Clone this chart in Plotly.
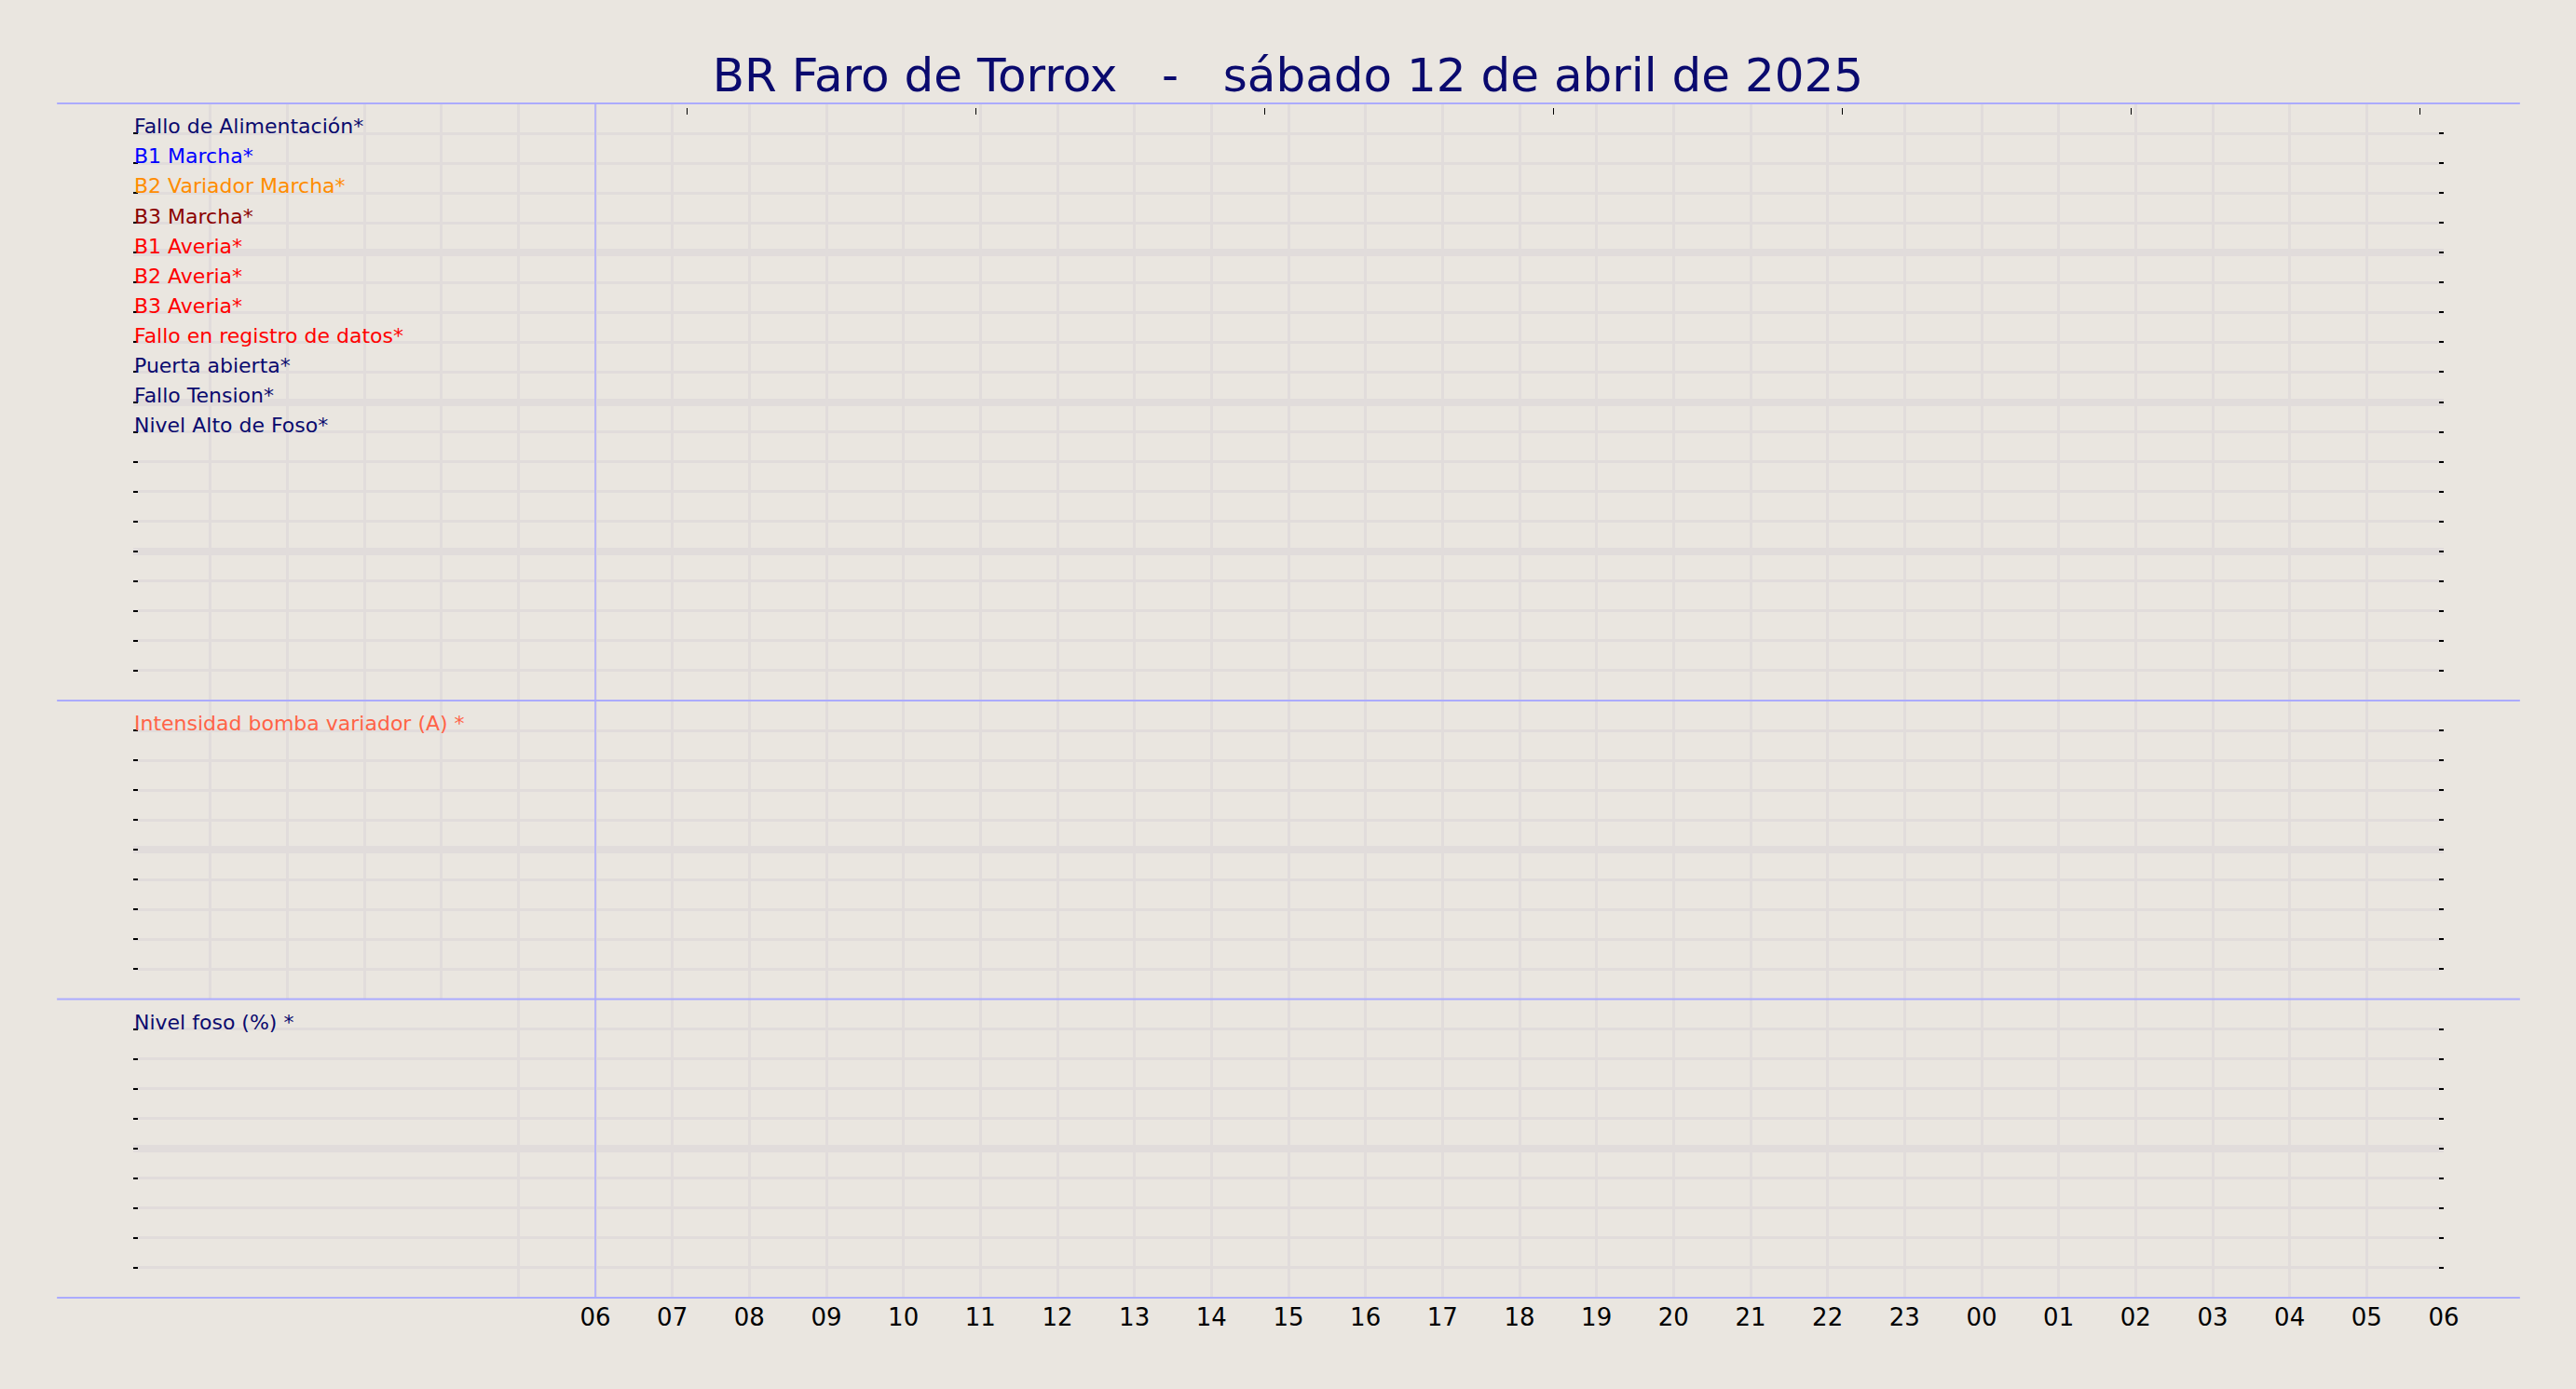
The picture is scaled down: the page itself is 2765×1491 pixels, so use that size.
import plotly.graph_objects as go

TITLE = "BR Faro de Torrox   -   sábado 12 de abril de 2025"

RANGE_START = "2025-04-12 00:00"
RANGE_END = "2025-04-13 06:00"
DAY_START = "2025-04-12 06:00"

HOUR_TICKS = ["2025-04-12 %02d:00" % h for h in range(24)] + \
             ["2025-04-13 %02d:00" % h for h in range(7)]
HOUR_LABELS = ["", "", "", "", "", "",
               "06", "07", "08", "09", "10", "11", "12", "13", "14", "15", "16", "17",
               "18", "19", "20", "21", "22", "23", "00", "01", "02", "03", "04", "05", "06"]

DIGITAL_SIGNALS = ["Fallo de Alimentación*", "B1 Marcha*", "B2 Variador Marcha*", "B3 Marcha*",
                   "B1 Averia*", "B2 Averia*", "B3 Averia*", "Fallo en registro de datos*",
                   "Puerta abierta*", "Fallo Tension*", "Nivel Alto de Foso*"]
DIGITAL_COLORS = ["#0A0A6E", "#0000FF", "#FF8C00", "#8B0000", "#FF0000", "#FF0000", "#FF0000",
                  "#FF0000", "#0A0A6E", "#0A0A6E", "#0A0A6E"]

INTENSITY_LABEL = ["Intensidad bomba variador (A) *"]
INTENSITY_COLOR = ["#FF6347"]
LEVEL_LABEL = ["Nivel foso (%) *"]
LEVEL_COLOR = ["#0A0A6E"]

# no readings were logged for this day
digital_times, digital_values = [], []
intensity_times, intensity_values = [], []
level_times, level_values = [], []

BG = "#EAE6E0"
GRID = "#E1DCDB"
EDGE = "#ABABFF"


def row_ticks(n_rows, labels, colors):
    vals = list(range(n_rows + 1))
    text = []
    for v in vals:
        k = n_rows - v
        if 1 <= k <= len(labels):
            text.append("<span style='color:%s'>%s</span>" % (colors[k - 1], labels[k - 1]))
        else:
            text.append("")
    return vals, text


def signal_axis(n_rows, labels, colors, domain):
    vals, text = row_ticks(n_rows, labels, colors)
    return dict(domain=domain, anchor="x", range=[0, n_rows], tickmode="array",
                tickvals=vals, ticktext=text, ticks="inside", ticklen=5, tickwidth=2,
                tickcolor="black", mirror="ticks", ticklabelposition="inside top",
                ticklabelshift=9, ticklabelstandoff=-2,
                tickfont=dict(size=22), showgrid=True, gridcolor=GRID, gridwidth=3,
                zeroline=False, showline=False)


def band_axis(n_rows, over):
    return dict(overlaying=over, anchor="x", range=[0, n_rows], tickmode="linear",
                tick0=0, dtick=5, showticklabels=False, ticks="", showgrid=True,
                gridcolor=GRID, gridwidth=8, zeroline=False, showline=False)


def main():
    fig = go.Figure()
    fig.add_trace(go.Scatter(x=digital_times, y=digital_values, xaxis="x", yaxis="y",
                             mode="lines", name="Digitales"))
    fig.add_trace(go.Scatter(x=intensity_times, y=intensity_values, xaxis="x", yaxis="y2",
                             mode="lines", name=INTENSITY_LABEL[0], line=dict(color=INTENSITY_COLOR[0])))
    fig.add_trace(go.Scatter(x=level_times, y=level_values, xaxis="x", yaxis="y3",
                             mode="lines", name=LEVEL_LABEL[0], line=dict(color=LEVEL_COLOR[0])))
    for ya in ["y4", "y5", "y6"]:
        fig.add_trace(go.Scatter(x=[], y=[], xaxis="x", yaxis=ya, hoverinfo="skip"))
    fig.add_trace(go.Scatter(x=[], y=[], xaxis="x2", yaxis="y", hoverinfo="skip"))

    fig.update_layout(
        width=2765, height=1491,
        margin=dict(l=143, r=142, t=111, b=98, pad=0),
        paper_bgcolor=BG, plot_bgcolor=BG,
        font=dict(family="DejaVu Sans", color="black"),
        showlegend=False,
        title=dict(text=TITLE.replace(" ", "\u00a0"), x=0.5, xanchor="center",
                   y=1 - 80 / 1491, yanchor="middle", yref="container",
                   font=dict(size=50, color="#0A0A6E")),
        xaxis=dict(type="date", anchor="y3", range=[RANGE_START, RANGE_END],
                   tickmode="array", tickvals=HOUR_TICKS, ticktext=HOUR_LABELS,
                   ticks="", tickfont=dict(size=26, color="black"), ticklabelstandoff=3,
                   showgrid=True, gridcolor=GRID, gridwidth=3, zeroline=False, showline=False),
        xaxis2=dict(overlaying="x", side="top", anchor="free", position=0.9906,
                    range=[-11 / 12, 8 - 11 / 12], tickmode="linear", tick0=0, dtick=1,
                    ticks="outside", ticklen=7, tickwidth=1.3, tickcolor="black",
                    showticklabels=False, showgrid=False, zeroline=False, showline=False),
        yaxis=signal_axis(20, DIGITAL_SIGNALS, DIGITAL_COLORS, [0.5, 1.0]),
        yaxis2=signal_axis(10, INTENSITY_LABEL, INTENSITY_COLOR, [0.25, 0.5]),
        yaxis3=signal_axis(10, LEVEL_LABEL, LEVEL_COLOR, [0.0, 0.25]),
        yaxis4=band_axis(20, "y"),
        yaxis5=band_axis(10, "y2"),
        yaxis6=band_axis(10, "y3"),
    )

    for edge in [0.0, 0.25, 0.5, 1.0]:
        fig.add_shape(type="line", xref="paper", yref="paper", x0=-0.033, x1=1.033,
                      y0=edge, y1=edge, line=dict(color=EDGE, width=2))
    fig.add_shape(type="line", xref="x", yref="paper", x0=DAY_START, x1=DAY_START,
                  y0=0, y1=1, line=dict(color=EDGE, width=1.5))

    fig.write_html("out.html", config={"displayModeBar": False},
                   post_script="document.body.style.margin='0';"
                               "document.body.style.background='%s';" % BG)


if __name__ == '__main__':
    main()
